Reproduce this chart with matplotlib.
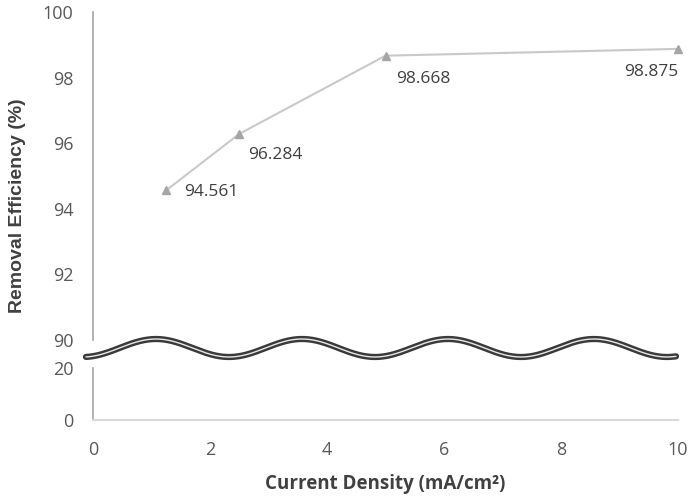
import numpy as np
import matplotlib
matplotlib.use("Agg")
import matplotlib.pyplot as plt

# Data
current_density = [1.25, 2.5, 5, 10]
removal_eff = [94.561, 96.284, 98.668, 98.875]
labels = ["94.561", "96.284", "98.668", "98.875"]
x_ticks = [0, 2, 4, 6, 8, 10]
y_ticks_top = [90, 92, 94, 96, 98, 100]
y_ticks_bottom = [0, 20]

W, H = 691, 498
fig = plt.figure(figsize=(W / 100, H / 100), dpi=100)

def fx(px):
    return px / W

def fy(py):
    return 1 - py / H

left, right = 93, 678
ax_top = fig.add_axes([fx(left), fy(340), fx(right - left), fy(12) - fy(340)])
ax_bot = fig.add_axes([fx(left), fy(420), fx(right - left), fy(368) - fy(420)])

tick_color = "#595959"
tick_size = 13

for ax in (ax_top, ax_bot):
    ax.set_xlim(0, 10)
    ax.patch.set_alpha(0)
    for s in ("top", "right"):
        ax.spines[s].set_visible(False)
    ax.spines["left"].set_color("#A6A6A6")
    ax.spines["left"].set_linewidth(1.2)
    ax.tick_params(length=0, colors=tick_color, pad=14)

ax_top.set_ylim(90, 100)
ax_top.set_yticks(y_ticks_top)
ax_top.spines["bottom"].set_visible(False)
ax_top.set_xticks([])

ax_bot.set_ylim(0, 20)
ax_bot.set_yticks(y_ticks_bottom)
ax_bot.spines["bottom"].set_color("#D9D9D9")
ax_bot.spines["bottom"].set_linewidth(1.5)
ax_bot.set_xticks(x_ticks)
ax_bot.tick_params(axis="x", pad=15)

for ax in (ax_top, ax_bot):
    for lab in ax.get_xticklabels() + ax.get_yticklabels():
        lab.set_fontfamily("Open Sans")
        lab.set_fontsize(tick_size)
        lab.set_color(tick_color)

ax_top.plot(current_density, removal_eff, color="#C9C9C9", lw=1.5,
            marker="^", markersize=6, markerfacecolor="#A5A5A5",
            markeredgecolor="#A5A5A5", clip_on=False, zorder=3)

offsets = [(13, -1), (6.5, -15), (8, -17), (0, -16.5)]
has = ["left", "left", "left", "right"]
for x, y, t, off, ha in zip(current_density, removal_eff, labels, offsets, has):
    ax_top.annotate(t, (x, y), xytext=off, textcoords="offset points",
                    ha=ha, va="center", fontsize=12.5, color="#404040",
                    family="Open Sans")

# Axis labels
fig.text(fx(385), fy(484), "Current Density (mA/cm²)", ha="center", va="center",
         fontsize=13.5, fontweight="bold", color="#404040", family="Open Sans")
fig.text(fx(18), fy(206), "Removal Efficiency (%)", ha="center", va="center",
         rotation=90, fontsize=14, fontweight="bold", color="#404040",
         family="Liberation Sans")

# Wavy break line in figure pixel coordinates
xs = np.linspace(86, 676, 600)
ys = 348 - 9 * np.cos(2 * np.pi * (xs - 156) / 146)
fig.add_artist(plt.Line2D(fx(xs), fy(ys), transform=fig.transFigure,
                          color="#3A3A3A", lw=4.5, solid_capstyle="round"))
fig.add_artist(plt.Line2D(fx(xs), fy(ys), transform=fig.transFigure,
                          color="#E8E8E8", lw=1.0, solid_capstyle="round"))

fig.savefig("out.png", dpi=100)
